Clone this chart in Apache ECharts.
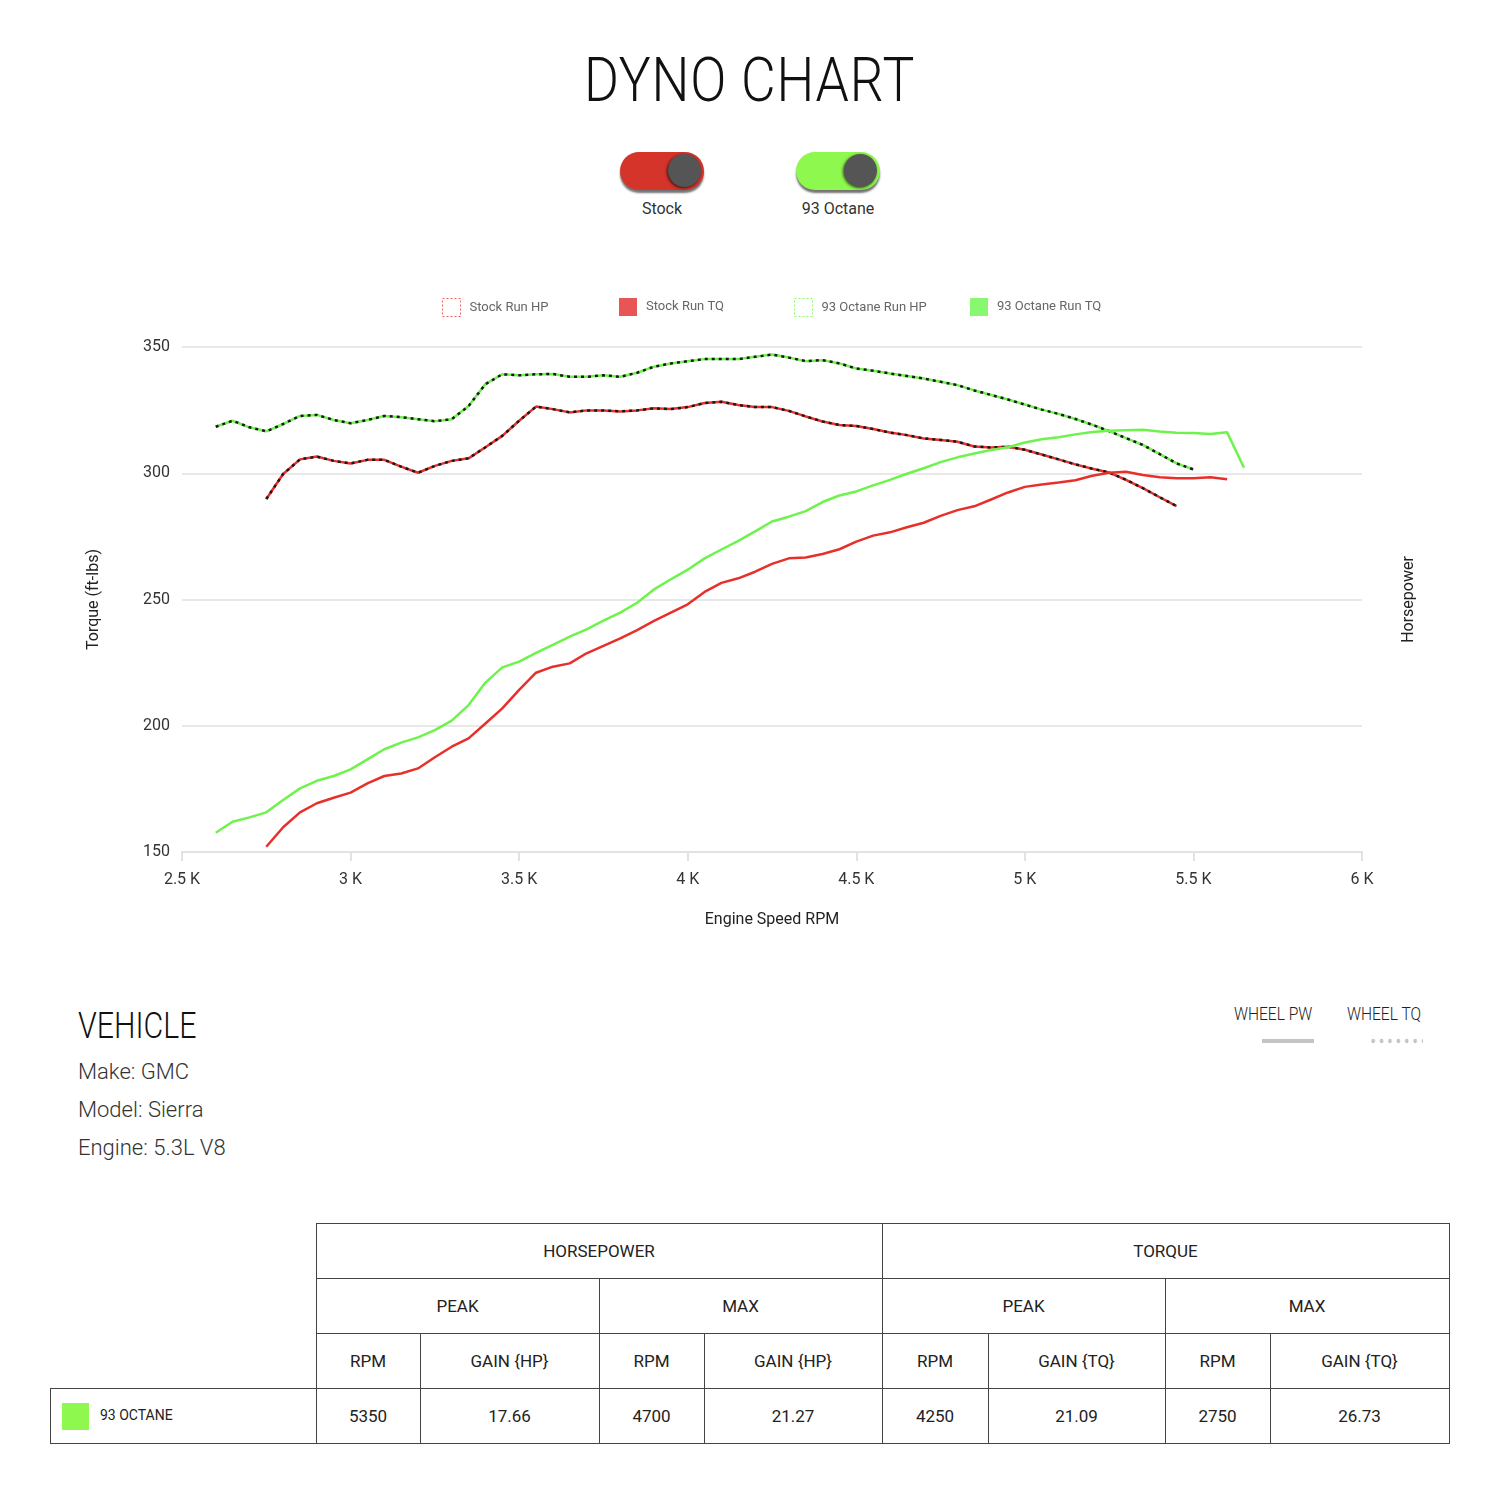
<!DOCTYPE html>
<html lang="en">
<head>
<meta charset="UTF-8">
<title>Dyno Chart</title>
<script src="https://cdn.jsdelivr.net/npm/echarts@6/dist/echarts.min.js"></script>
<style>
    body { margin: 0; width: 1500px; height: 1500px; background: #fff; font-family: Roboto, sans-serif; color: #222; position: relative; overflow: hidden; }
    .title { position: absolute; top: 43px; left: 0; width: 1500px; text-align: center; }
    .title span { display: inline-block; font-family: Roboto; font-weight: 300; font-size: 62px; letter-spacing: 1px; color: #111; transform: scaleX(0.86); }
    .toggle { position: absolute; top: 152px; width: 84px; height: 38px; border-radius: 19px; box-shadow: 0 3px 2px rgba(0,0,0,0.55); }
    .toggle .knob { position: absolute; right: 3px; top: 2px; width: 33px; height: 33px; border-radius: 50%; background: #555; box-shadow: -1px 1px 3px rgba(0,0,0,0.7); }
    .tlabel { position: absolute; top: 199px; width: 160px; text-align: center; font-size: 16px; color: #333; }
    #main { position: absolute; left: 0; top: 280px; width: 1500px; height: 680px; }
    .cond { display: inline-block; font-weight: 300; transform-origin: left center; transform: scaleX(0.82); }
    .vehicle { position: absolute; left: 78px; top: 1004px; }
    .vehicle h2 { margin: 0 0 6px 0; font-size: 37px; font-weight: 300; color: #111; }
    .vehicle p { margin: 0; font-size: 22px; font-weight: 300; line-height: 38px; color: #333; }
    .wheel { position: absolute; top: 1002px; font-size: 19px; color: #222; }
    .pw-bar { position: absolute; left: 1262px; top: 1039px; width: 52px; height: 4px; background: #c4c4c4; }
    .tq-dots { position: absolute; left: 1369px; top: 1039px; width: 54px; height: 4px;
        background-image: radial-gradient(circle, #c4c4c4 1.8px, transparent 2px); background-size: 8.4px 4px; }
    table { position: absolute; left: 50px; top: 1223px; border-collapse: collapse; }
    td { border: 1px solid #444; height: 54px; text-align: center; font-size: 17px; color: #222; padding: 0; }
    td.blank { border-top: none; border-left: none; }
    td.name { text-align: left; font-size: 14px; }
    .sw { display: inline-block; width: 27px; height: 27px; background: #8ef84e; vertical-align: middle; margin: 0 11px 0 11px; }
</style>
</head>
<body>
<div class="title"><span>DYNO CHART</span></div>

<div class="toggle" style="left:620px;background:#d4342a;"><div class="knob"></div></div>
<div class="toggle" style="left:796px;background:#8ef84e;"><div class="knob"></div></div>
<div class="tlabel" style="left:582px;">Stock</div>
<div class="tlabel" style="left:758px;">93 Octane</div>

<div id="main"></div>

<div class="vehicle">
    <h2><span class="cond">VEHICLE</span></h2>
    <p>Make: GMC</p>
    <p>Model: Sierra</p>
    <p>Engine: 5.3L V8</p>
</div>
<div class="wheel" style="left:1234px;"><span class="cond">WHEEL PW</span></div>
<div class="wheel" style="left:1347px;"><span class="cond">WHEEL TQ</span></div>
<div class="pw-bar"></div>
<div class="tq-dots"></div>

<table>
    <tr>
        <td class="blank" rowspan="3" style="width:265px;"></td>
        <td colspan="4">HORSEPOWER</td>
        <td colspan="4">TORQUE</td>
    </tr>
    <tr>
        <td colspan="2">PEAK</td>
        <td colspan="2">MAX</td>
        <td colspan="2">PEAK</td>
        <td colspan="2">MAX</td>
    </tr>
    <tr>
        <td style="width:103px;">RPM</td>
        <td style="width:178px;">GAIN {HP}</td>
        <td style="width:104px;">RPM</td>
        <td style="width:177px;">GAIN {HP}</td>
        <td style="width:105px;">RPM</td>
        <td style="width:176px;">GAIN {TQ}</td>
        <td style="width:104px;">RPM</td>
        <td style="width:178px;">GAIN {TQ}</td>
    </tr>
    <tr>
        <td class="name"><span class="sw"></span>93 OCTANE</td>
        <td>5350</td>
        <td>17.66</td>
        <td>4700</td>
        <td>21.27</td>
        <td>4250</td>
        <td>21.09</td>
        <td>2750</td>
        <td>26.73</td>
    </tr>
</table>

<script type="text/javascript">
    // engine speed (rpm) for every sample
    var rpm = [2600, 2650, 2700, 2750, 2800, 2850, 2900, 2950, 3000, 3050,
               3100, 3150, 3200, 3250, 3300, 3350, 3400, 3450, 3500, 3550,
               3600, 3650, 3700, 3750, 3800, 3850, 3900, 3950, 4000, 4050,
               4100, 4150, 4200, 4250, 4300, 4350, 4400, 4450, 4500, 4550,
               4600, 4650, 4700, 4750, 4800, 4850, 4900, 4950, 5000, 5050,
               5100, 5150, 5200, 5250, 5300, 5350, 5400, 5450, 5500, 5550,
               5600, 5650];

    var stockHp = [null, null, null, 289.8, 299.7, 305.5, 306.6, 304.9, 303.9, 305.3,
                   305.3, 302.6, 300.2, 302.9, 304.9, 305.9, 310.3, 314.8, 320.8, 326.4,
                   325.4, 324.1, 324.9, 324.9, 324.5, 324.9, 325.7, 325.4, 326.2, 327.8,
                   328.3, 327.0, 326.2, 326.2, 324.7, 322.5, 320.5, 319.1, 318.7, 317.5,
                   316.1, 315.1, 313.8, 313.2, 312.5, 310.6, 310.2, 310.5, 309.3, 307.4,
                   305.5, 303.5, 301.8, 300.3, 297.4, 294.1, 290.5, 287.0, null, null,
                   null, null];

    var stockTq = [null, null, null, 152.1, 159.8, 165.7, 169.3, 171.5, 173.5, 177.2,
                   180.1, 181.1, 183.1, 187.5, 191.7, 195.0, 200.9, 206.9, 214.2, 221.0,
                   223.4, 224.7, 228.7, 231.6, 234.6, 237.9, 241.5, 244.8, 248.1, 253.0,
                   256.6, 258.4, 261.0, 264.1, 266.3, 266.6, 268.0, 269.9, 272.9, 275.3,
                   276.6, 278.6, 280.4, 283.1, 285.4, 286.9, 289.6, 292.4, 294.6, 295.5,
                   296.3, 297.2, 299.0, 300.2, 300.6, 299.3, 298.4, 298.0, 298.0, 298.4,
                   297.6, null];

    var octaneHp = [318.4, 320.8, 318.2, 316.6, 319.5, 322.7, 323.1, 321.1, 319.8, 321.1,
                    322.7, 322.2, 321.4, 320.6, 321.4, 326.6, 335.3, 339.2, 338.8, 339.2,
                    339.3, 338.2, 338.2, 338.8, 338.2, 339.8, 342.2, 343.5, 344.4, 345.2,
                    345.2, 345.2, 346.1, 347.0, 345.8, 344.4, 344.8, 343.5, 341.5, 340.6,
                    339.5, 338.5, 337.5, 336.2, 334.9, 332.8, 331.0, 329.2, 327.2, 325.2,
                    323.5, 321.5, 319.2, 316.7, 313.9, 311.2, 307.6, 303.9, 301.5, null,
                    null, null];

    var octaneTq = [157.6, 162.0, 163.7, 165.7, 170.6, 175.2, 178.2, 180.1, 182.7, 186.7,
                    190.7, 193.3, 195.4, 198.3, 202.0, 208.2, 217.1, 223.1, 225.4, 228.9,
                    232.0, 235.3, 238.2, 241.6, 244.8, 248.7, 254.0, 258.0, 261.8, 266.3,
                    269.8, 273.2, 277.0, 280.9, 282.8, 285.0, 288.6, 291.2, 292.8, 295.2,
                    297.4, 299.8, 302.0, 304.4, 306.3, 307.8, 309.2, 310.3, 312.2, 313.5,
                    314.3, 315.4, 316.3, 316.8, 317.0, 317.2, 316.5, 316.0, 315.9, 315.5,
                    316.2, 302.2];

    var RED = '#e8302b';
    var GREEN = '#6ef34c';

    function pairs(values) {
        return rpm.map(function (r, i) { return [r, values[i]]; });
    }

    function solidLine(name, values, color, yIndex) {
        return {
            name: name, type: 'line', yAxisIndex: yIndex, data: pairs(values),
            showSymbol: false, connectNulls: false, animation: false,
            itemStyle: {color: color},
            lineStyle: {color: color, width: 2.5}
        };
    }

    function dotOverlay(name, values) {
        return {
            name: name, type: 'line', yAxisIndex: 1, data: pairs(values),
            showSymbol: false, connectNulls: false, animation: false, silent: true,
            lineStyle: {color: '#1a1a1a', width: 2.5, type: [3, 4]}
        };
    }

    // one legend per entry so each sits at its own fixed slot
    function legendItem(left, entry) {
        return {
            left: left, top: 13, icon: 'rect', itemWidth: 18, itemHeight: 18,
            textStyle: {color: '#666', fontSize: 13, padding: [0, 0, 0, 4]},
            data: [entry]
        };
    }

    var myChart = echarts.init(document.getElementById('main'));

    var option = {
        textStyle: {fontFamily: 'Roboto'},
        legend: [
            legendItem(437, {name: 'Stock Run HP', itemStyle: {color: 'rgba(0,0,0,0)', borderColor: '#ee6060', borderWidth: 1, borderType: [2, 2]}}),
            legendItem(614, {name: 'Stock Run TQ', itemStyle: {color: '#e85555'}}),
            legendItem(789, {name: '93 Octane Run HP', itemStyle: {color: 'rgba(0,0,0,0)', borderColor: '#8ef86a', borderWidth: 1, borderType: [2, 2]}}),
            legendItem(965, {name: '93 Octane Run TQ', itemStyle: {color: '#88f870'}})
        ],
        grid: {left: 182, right: 138, top: 67, bottom: 108},
        xAxis: {
            type: 'value', min: 2500, max: 6000, interval: 500,
            name: 'Engine Speed RPM', nameLocation: 'middle', nameGap: 60,
            nameTextStyle: {color: '#222', fontSize: 16},
            axisLine: {show: true, lineStyle: {color: '#e2e2e2', width: 2}},
            axisTick: {show: true, length: 9, lineStyle: {color: '#e2e2e2', width: 2}},
            axisLabel: {color: '#333', fontSize: 16, margin: 20,
                formatter: function (v) { return (v / 1000) + ' K'; }},
            splitLine: {show: false}
        },
        yAxis: [
            {
                type: 'value', min: 150, max: 350, interval: 50,
                name: 'Torque (ft-lbs)', nameLocation: 'middle', nameGap: 80, nameRotate: 90,
                nameTextStyle: {color: '#222', fontSize: 16},
                axisLine: {show: false}, axisTick: {show: false},
                axisLabel: {color: '#333', fontSize: 16, margin: 12},
                splitLine: {lineStyle: {color: '#e8e8e8', width: 2}}
            },
            {
                type: 'value', min: 150, max: 350, interval: 50, position: 'right',
                name: 'Horsepower', nameLocation: 'middle', nameGap: 39, nameRotate: 90,
                nameTextStyle: {color: '#222', fontSize: 16},
                axisLine: {show: false}, axisTick: {show: false},
                axisLabel: {show: false}, splitLine: {show: false}
            }
        ],
        series: [
            solidLine('Stock Run HP', stockHp, RED, 1),
            dotOverlay('Stock HP dots', stockHp),
            solidLine('Stock Run TQ', stockTq, RED, 0),
            solidLine('93 Octane Run HP', octaneHp, GREEN, 1),
            dotOverlay('93 Octane HP dots', octaneHp),
            solidLine('93 Octane Run TQ', octaneTq, GREEN, 0)
        ]
    };

    myChart.setOption(option);
</script>
</body>
</html>
